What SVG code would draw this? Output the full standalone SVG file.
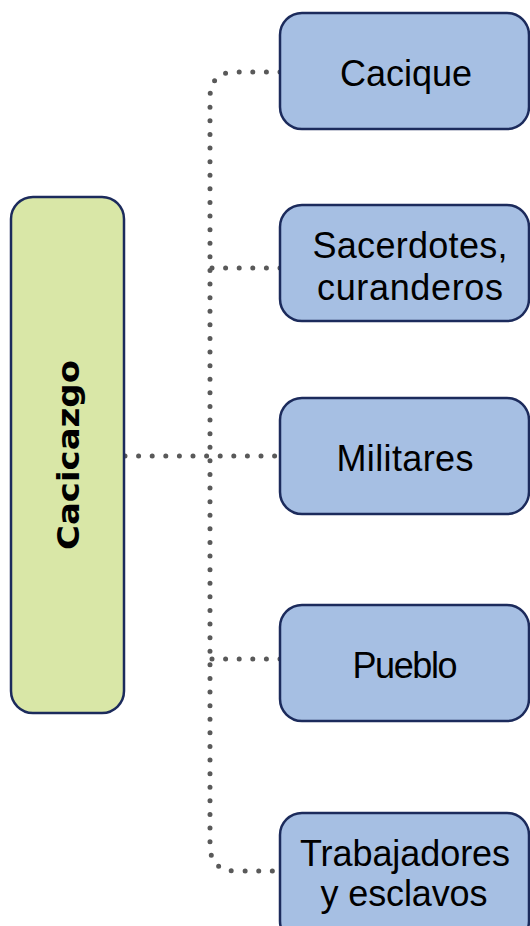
<svg xmlns="http://www.w3.org/2000/svg" width="530" height="926" viewBox="0 0 530 926">
<style>
.conn{fill:none;stroke:#595959;stroke-width:5;stroke-linecap:round;stroke-dasharray:0 13.6}
.box{fill:#a6bfe3;stroke:#1c2b5c;stroke-width:2.5}
.root{fill:#d9e7a7;stroke:#1c2b5c;stroke-width:2.5}
.lbl{font-family:"Liberation Sans",Arial,sans-serif;font-size:36px;fill:#000;text-anchor:middle}
.rlbl{font-family:"DejaVu Sans","Liberation Sans",sans-serif;font-weight:bold;font-size:31px;fill:#000;text-anchor:middle}
</style>
<rect width="530" height="926" fill="#fff"/>
<g id="connectors">
<path class="conn" d="M280,72 H236 Q210,72 210,98 V845 Q210,871 236,871 H280"/>
<path class="conn" d="M280,268 H210"/>
<path class="conn" d="M125,456 H280"/>
<path class="conn" d="M280,659 H210"/>
</g>
<g id="cacicazgo">
<rect class="root" x="11" y="197" width="113" height="516" rx="22"/>
<text class="rlbl" transform="translate(79,455) rotate(-90)" textLength="190" lengthAdjust="spacingAndGlyphs">Cacicazgo</text>
</g>
<g id="cacique">
<rect class="box" x="280" y="13" width="249" height="116" rx="22"/>
<text class="lbl" x="406" y="86" textLength="132">Cacique</text>
</g>
<g id="sacerdotes">
<rect class="box" x="280" y="205" width="249" height="116" rx="22"/>
<text class="lbl" x="410" y="258" textLength="195">Sacerdotes,</text>
<text class="lbl" x="410" y="300" textLength="186">curanderos</text>
</g>
<g id="militares">
<rect class="box" x="280" y="398" width="249" height="116" rx="22"/>
<text class="lbl" x="405" y="471" textLength="137">Militares</text>
</g>
<g id="pueblo">
<rect class="box" x="280" y="605" width="249" height="116" rx="22"/>
<text class="lbl" x="405" y="678" textLength="105">Pueblo</text>
</g>
<g id="trabajadores">
<rect class="box" x="280" y="813" width="249" height="130" rx="22"/>
<text class="lbl" x="405" y="866" textLength="210">Trabajadores</text>
<text class="lbl" x="404" y="906" textLength="167">y esclavos</text>
</g>
</svg>
